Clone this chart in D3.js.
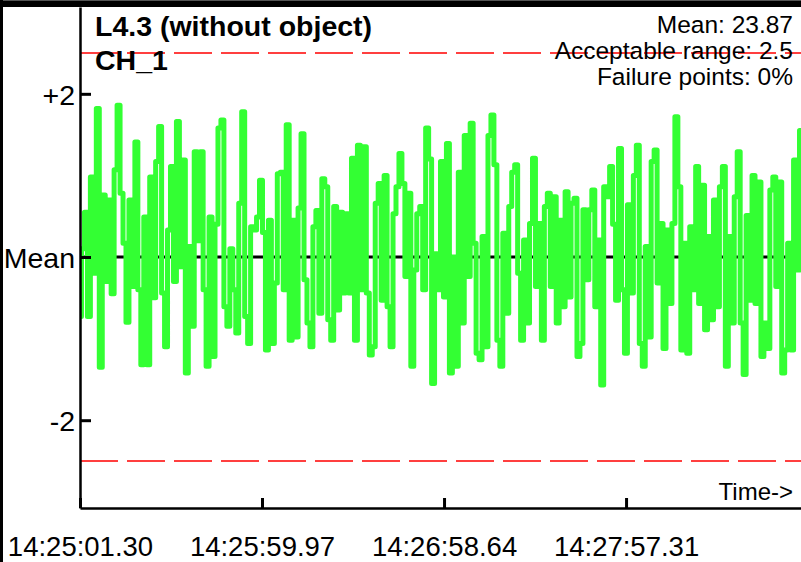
<!DOCTYPE html>
<html>
<head>
  <meta charset="utf-8">
  <script src="https://d3js.org/d3.v7.min.js"></script>
  <style>
    html, body { margin: 0; padding: 0; background: #fff; }
    svg { display: block; font-family: "Liberation Sans", Arial, sans-serif; }
  </style>
</head>
<body>
<svg id="chart"></svg>
<script>
  // deviation from mean, left to right
  const signalA = [-0.73, 0.1, 0.55, -0.73, 0.98, -0.2, 1.82, -1.35, 0.76, -0.3, 0.7, -0.45, 1.07, 1.86, 0.78, 0.17, -0.8, 0.7, -0.36, 1.41,
    -0.4, -1.32, 0.49, -1.32, 0.98, -0.5, 1.17, 1.6, -0.44, -1.1, 0.33, 1.11, -0.3, 1.66, -0.12, 1.19, -1.42, 0.13, -0.85, 1.29,
    0.2, 1.29, -0.4, -1.34, 0.49, -1.22, 0.4, 1.58, 1.68, -0.61, -0.85, 0.1, -0.4, -0.93, 0.66, 1.78, -0.73, -1.06, 0.37, 0.33]
  const signalB = [0.49, 0.94, 0.3, -1.14, 0.45, -1.06, -0.32, 1.02, 1.04, -0.4, 1.62, -1.02, 0.45, -0.98, 0.6, 1.51, -0.28, -0.81, -1.1, 0.37,
    0.57, -0.69, 0.96, 0.86, -0.77, -1.02, 0.62, -0.65, 0.55, -0.44, 0.53, -0.44, 1.21, -1.02, 1.37, -0.4, 1.35, -0.44, -1.2, -1.1,
    0.66, 0.9, -0.53, 1.0, -0.61, -1.1, 0.53, 0.86, 1.27, 0.9, -0.24, 0.78, -1.34, -0.16, 0.53, 0.62, -0.4, 1.58]
  const signalC = [1.2, -1.55, 0.04, -0.4, 1.17, -0.49, 1.39, -1.42, 0.0, -1.34, 1.04, -0.81, 1.49, -0.24, 1.64, 0.17, -1.18, -1.26, 0.25, -1.10,
    1.49, 1.74, 1.13, -1.02, -1.34, 0.29, -0.69, 0.62, 1.04, 1.13, -0.2, -1.02, 0.21, -0.81, 0.41, 1.21, -0.36, 0.41, -1.02, 0.62,
    0.78, -0.36, 0.74, -0.81, 0.45, -0.61, 0.80, -0.49, 0.66, 0.72, -1.22, -1.06, 0.58, -0.28, 0.58, 0.82, -0.61, 0.21, -1.57, 0.86, 0.74, 1.11]
  const signalD = [0.4, -0.53, 1.33, -0.40, -1.18, 0.64, -0.44, 1.0, 1.37, -1.06, -1.34, 0.13, -0.98, 1.17, 1.31, -0.32, 0.41, -1.12, 0.33, -0.57,
    0.41, 1.72, 0.86, -1.14, 0.17, -1.18, 0.37, -0.40, 1.11, -0.57, 0.88, -0.89, 0.25, -0.77, 0.70, -0.61, 0.86, 1.11, -1.34, 0.25,
    -0.81, 0.74, 1.29, -0.81, -1.44, 0.51, -0.53, 1.0, -0.57, 0.92, -1.22, -0.81, -1.12, 0.82, 0.98, -0.36, 0.92, -1.42, -1.14, 0.17,
    -1.14, 1.19, -0.16, 1.55]

  const yTickValues = [-2, 0, 2]
  const yTickLabels = ["-2", "Mean", "+2"]
  const limit = 2.5
  const xTickLabels = ["14:25:01.30", "14:25:59.97", "14:26:58.64", "14:27:57.31"]
  const endTime = "14:28:53.70"
  const title = ["L4.3 (without object)", "CH_1"]
  const info = ["Mean: 23.87", "Acceptable range: 2.5", "Failure points: 0%"]

  const W = 801, H = 562
  const m = { left: 80, right: 801, top: 7, bottom: 508 }

  const toSec = s => { const p = s.split(":"); return +p[0] * 3600 + +p[1] * 60 + +p[2] }

  const signal = signalA.concat(signalB, signalC, signalD)
  const t0 = toSec(xTickLabels[0]), t1 = toSec(endTime)
  const step = (t1 - t0) / (signal.length - 1)
  const data = signal.map((v, i) => ({ t: t0 + i * step, v: v }))

  const svg = d3.select("#chart").attr("width", W).attr("height", H)

  const x = d3.scaleLinear().domain([t0, t1]).range([m.left, m.right])
  const y = d3.scaleLinear().domain([-3.076, 3.064]).range([m.bottom, m.top])

  // frame
  svg.append("rect").attr("x", 0).attr("y", 0).attr("width", W).attr("height", 7).attr("fill", "#000")
  svg.append("rect").attr("x", 0).attr("y", 0).attr("width", W).attr("height", 1).attr("fill", "#555")
  svg.append("rect").attr("x", 0).attr("y", 0).attr("width", 3).attr("height", H).attr("fill", "#000")

  svg.append("defs").append("clipPath").attr("id", "plot")
    .append("rect").attr("x", m.left).attr("y", m.top).attr("width", m.right - m.left).attr("height", m.bottom - m.top)

  const plot = svg.append("g").attr("clip-path", "url(#plot)")

  // mean line
  plot.append("line")
    .attr("x1", m.left).attr("x2", m.right).attr("y1", y(0)).attr("y2", y(0))
    .attr("stroke", "#000").attr("stroke-width", 3)

  // limits
  plot.selectAll(".limit").data([limit, -limit]).enter().append("line")
    .attr("x1", m.left).attr("x2", m.right)
    .attr("y1", d => y(d)).attr("y2", d => y(d))
    .attr("stroke", "#ff0000").attr("stroke-width", 1.5)
    .attr("stroke-dasharray", "38,9")

  const line = d3.line().curve(d3.curveStep).x(d => x(d.t)).y(d => y(d.v))
  plot.append("path").datum(data)
    .attr("d", line)
    .attr("fill", "none")
    .attr("stroke", "#33ff33")
    .attr("stroke-width", 5)
    .attr("stroke-linejoin", "round")
    .attr("stroke-linecap", "round")

  // axes
  const yAxis = svg.append("g").attr("transform", `translate(${m.left},0)`)
    .call(d3.axisLeft(y).tickValues(yTickValues).tickSize(-11).tickSizeOuter(0).tickPadding(5)
      .tickFormat((d, i) => yTickLabels[i]))
  yAxis.select(".domain").attr("stroke", "#000").attr("stroke-width", 2.5)
  yAxis.selectAll(".tick line").attr("stroke-width", 3)
  yAxis.selectAll("text").attr("font-size", 28.5).attr("fill", "#000")
    .attr("font-family", "Liberation Sans, Arial, sans-serif").attr("dy", "0.36em")

  const xAxis = svg.append("g").attr("transform", `translate(0,${m.bottom})`)
    .call(d3.axisBottom(x).tickValues(xTickLabels.map(toSec)).tickSize(-10).tickSizeOuter(0).tickPadding(28)
      .tickFormat((d, i) => xTickLabels[i]))
  xAxis.select(".domain").attr("stroke", "#000").attr("stroke-width", 2.5)
  xAxis.selectAll(".tick line").attr("stroke-width", 3)
  xAxis.selectAll("text").attr("font-size", 27.5).attr("fill", "#000")
    .attr("font-family", "Liberation Sans, Arial, sans-serif")

  // texts
  svg.selectAll(".title").data(title).enter().append("text")
    .attr("x", 95).attr("y", (d, i) => 36 + i * 34)
    .attr("font-size", 28.5).attr("font-weight", "bold")
    .text(d => d)

  svg.selectAll(".info").data(info).enter().append("text")
    .attr("x", 793).attr("y", (d, i) => 33 + i * 26)
    .attr("text-anchor", "end").attr("font-size", 24.5)
    .text(d => d)

  svg.append("text").attr("x", 793).attr("y", 500)
    .attr("text-anchor", "end").attr("font-size", 24)
    .text("Time->")
</script>
</body>
</html>
